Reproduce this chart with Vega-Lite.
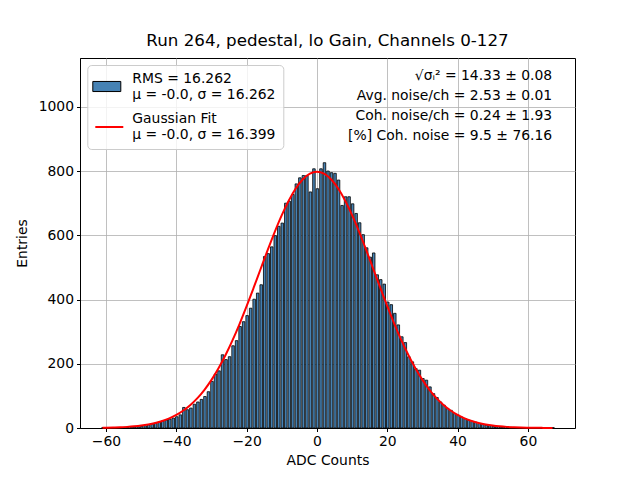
{
  "$schema": "https://vega.github.io/schema/vega-lite/v6.json",
  "width": 495,
  "height": 370,
  "autosize": {"type": "none"},
  "padding": {"left": 80, "top": 58, "right": 65, "bottom": 52},
  "background": "white",
  "config": {
    "font": "DejaVu Sans",
    "view": {"stroke": "black", "strokeWidth": 1},
    "axis": {
      "zindex": 1,
      "grid": true,
      "gridColor": "#b0b0b0",
      "gridWidth": 0.8,
      "domainColor": "black",
      "tickColor": "black",
      "tickSize": 3.5,
      "labelFontSize": 13.9,
      "labelColor": "black",
      "labelPadding": 3,
      "titleFontSize": 13.9,
      "titleFontWeight": "normal",
      "titleColor": "black"
    },
    "legend": {
      "labelFontSize": 13.9,
      "labelColor": "black",
      "labelLimit": 0
    }
  },
  "title": {
    "text": "Run 264, pedestal, lo Gain, Channels 0-127",
    "fontSize": 16.7,
    "fontWeight": "normal",
    "color": "black",
    "offset": 8,
    "anchor": "middle"
  },
  "datasets": {
    "hist": [
      {"lo": -61.5, "hi": -60.5, "n": 1}, {"lo": -60.5, "hi": -59.5, "n": 1},
      {"lo": -58.5, "hi": -57.5, "n": 1}, {"lo": -57.5, "hi": -56.5, "n": 1},
      {"lo": -56.5, "hi": -55.5, "n": 1}, {"lo": -55.5, "hi": -54.5, "n": 2},
      {"lo": -54.5, "hi": -53.5, "n": 2}, {"lo": -53.5, "hi": -52.5, "n": 3},
      {"lo": -52.5, "hi": -51.5, "n": 3}, {"lo": -51.5, "hi": -50.5, "n": 4},
      {"lo": -50.5, "hi": -49.5, "n": 5}, {"lo": -49.5, "hi": -48.5, "n": 7},
      {"lo": -48.5, "hi": -47.5, "n": 10}, {"lo": -47.5, "hi": -46.5, "n": 12},
      {"lo": -46.5, "hi": -45.5, "n": 15}, {"lo": -45.5, "hi": -44.5, "n": 19},
      {"lo": -44.5, "hi": -43.5, "n": 22}, {"lo": -43.5, "hi": -42.5, "n": 25},
      {"lo": -42.5, "hi": -41.5, "n": 28}, {"lo": -41.5, "hi": -40.5, "n": 31},
      {"lo": -40.5, "hi": -39.5, "n": 35}, {"lo": -39.5, "hi": -38.5, "n": 41},
      {"lo": -38.5, "hi": -37.5, "n": 64}, {"lo": -37.5, "hi": -36.5, "n": 57},
      {"lo": -36.5, "hi": -35.5, "n": 62}, {"lo": -35.5, "hi": -34.5, "n": 74},
      {"lo": -34.5, "hi": -33.5, "n": 81}, {"lo": -33.5, "hi": -32.5, "n": 89},
      {"lo": -32.5, "hi": -31.5, "n": 98}, {"lo": -31.5, "hi": -30.5, "n": 113},
      {"lo": -30.5, "hi": -29.5, "n": 145}, {"lo": -29.5, "hi": -28.5, "n": 168},
      {"lo": -28.5, "hi": -27.5, "n": 178}, {"lo": -27.5, "hi": -26.5, "n": 228},
      {"lo": -26.5, "hi": -25.5, "n": 213}, {"lo": -25.5, "hi": -24.5, "n": 222},
      {"lo": -24.5, "hi": -23.5, "n": 256}, {"lo": -23.5, "hi": -22.5, "n": 272},
      {"lo": -22.5, "hi": -21.5, "n": 316}, {"lo": -21.5, "hi": -20.5, "n": 331},
      {"lo": -20.5, "hi": -19.5, "n": 350}, {"lo": -19.5, "hi": -18.5, "n": 373},
      {"lo": -18.5, "hi": -17.5, "n": 401}, {"lo": -17.5, "hi": -16.5, "n": 420},
      {"lo": -16.5, "hi": -15.5, "n": 446}, {"lo": -15.5, "hi": -14.5, "n": 534},
      {"lo": -14.5, "hi": -13.5, "n": 543}, {"lo": -13.5, "hi": -12.5, "n": 564},
      {"lo": -12.5, "hi": -11.5, "n": 599}, {"lo": -11.5, "hi": -10.5, "n": 628},
      {"lo": -10.5, "hi": -9.5, "n": 638}, {"lo": -9.5, "hi": -8.5, "n": 700},
      {"lo": -8.5, "hi": -7.5, "n": 706}, {"lo": -7.5, "hi": -6.5, "n": 727},
      {"lo": -6.5, "hi": -5.5, "n": 760}, {"lo": -5.5, "hi": -4.5, "n": 779},
      {"lo": -4.5, "hi": -3.5, "n": 786}, {"lo": -3.5, "hi": -2.5, "n": 786},
      {"lo": -2.5, "hi": -1.5, "n": 735}, {"lo": -1.5, "hi": -0.5, "n": 807},
      {"lo": -0.5, "hi": 0.5, "n": 745}, {"lo": 0.5, "hi": 1.5, "n": 807},
      {"lo": 1.5, "hi": 2.5, "n": 826}, {"lo": 2.5, "hi": 3.5, "n": 800},
      {"lo": 3.5, "hi": 4.5, "n": 795}, {"lo": 4.5, "hi": 5.5, "n": 793},
      {"lo": 5.5, "hi": 6.5, "n": 772}, {"lo": 6.5, "hi": 7.5, "n": 693},
      {"lo": 7.5, "hi": 8.5, "n": 720}, {"lo": 8.5, "hi": 9.5, "n": 720},
      {"lo": 9.5, "hi": 10.5, "n": 698}, {"lo": 10.5, "hi": 11.5, "n": 668},
      {"lo": 11.5, "hi": 12.5, "n": 639}, {"lo": 12.5, "hi": 13.5, "n": 602},
      {"lo": 13.5, "hi": 14.5, "n": 561}, {"lo": 14.5, "hi": 15.5, "n": 532},
      {"lo": 15.5, "hi": 16.5, "n": 545}, {"lo": 16.5, "hi": 17.5, "n": 477},
      {"lo": 17.5, "hi": 18.5, "n": 462}, {"lo": 18.5, "hi": 19.5, "n": 448},
      {"lo": 19.5, "hi": 20.5, "n": 392}, {"lo": 20.5, "hi": 21.5, "n": 384},
      {"lo": 21.5, "hi": 22.5, "n": 357}, {"lo": 22.5, "hi": 23.5, "n": 321},
      {"lo": 23.5, "hi": 24.5, "n": 284}, {"lo": 24.5, "hi": 25.5, "n": 266},
      {"lo": 25.5, "hi": 26.5, "n": 222}, {"lo": 26.5, "hi": 27.5, "n": 206},
      {"lo": 27.5, "hi": 28.5, "n": 185}, {"lo": 28.5, "hi": 29.5, "n": 180},
      {"lo": 29.5, "hi": 30.5, "n": 154}, {"lo": 30.5, "hi": 31.5, "n": 149},
      {"lo": 31.5, "hi": 32.5, "n": 128}, {"lo": 32.5, "hi": 33.5, "n": 107},
      {"lo": 33.5, "hi": 34.5, "n": 95}, {"lo": 34.5, "hi": 35.5, "n": 81},
      {"lo": 35.5, "hi": 36.5, "n": 71}, {"lo": 36.5, "hi": 37.5, "n": 61},
      {"lo": 37.5, "hi": 38.5, "n": 55}, {"lo": 38.5, "hi": 39.5, "n": 45},
      {"lo": 39.5, "hi": 40.5, "n": 40}, {"lo": 40.5, "hi": 41.5, "n": 34},
      {"lo": 41.5, "hi": 42.5, "n": 29}, {"lo": 42.5, "hi": 43.5, "n": 24},
      {"lo": 43.5, "hi": 44.5, "n": 21}, {"lo": 44.5, "hi": 45.5, "n": 18},
      {"lo": 45.5, "hi": 46.5, "n": 14}, {"lo": 46.5, "hi": 47.5, "n": 11},
      {"lo": 47.5, "hi": 48.5, "n": 9}, {"lo": 48.5, "hi": 49.5, "n": 7},
      {"lo": 49.5, "hi": 50.5, "n": 5}, {"lo": 50.5, "hi": 51.5, "n": 4},
      {"lo": 51.5, "hi": 52.5, "n": 3}, {"lo": 52.5, "hi": 53.5, "n": 3},
      {"lo": 53.5, "hi": 54.5, "n": 2}, {"lo": 54.5, "hi": 55.5, "n": 2},
      {"lo": 55.5, "hi": 56.5, "n": 1}, {"lo": 56.5, "hi": 57.5, "n": 1},
      {"lo": 57.5, "hi": 58.5, "n": 1}, {"lo": 59.5, "hi": 60.5, "n": 1},
      {"lo": 62.5, "hi": 63.5, "n": 1}, {"lo": 66.5, "hi": 67.5, "n": 1}
    ],
    "fit": [
      {"x": -61, "g": 0.8}, {"x": -60, "g": 1.0}, {"x": -58, "g": 1.5}, {"x": -56, "g": 2.3},
      {"x": -54, "g": 3.5}, {"x": -52, "g": 5.2}, {"x": -50, "g": 7.6}, {"x": -48, "g": 11.0},
      {"x": -46, "g": 15.6}, {"x": -44, "g": 21.8}, {"x": -42, "g": 30.0}, {"x": -40, "g": 40.8},
      {"x": -38, "g": 54.5}, {"x": -36, "g": 71.7}, {"x": -34, "g": 93.0}, {"x": -32, "g": 118.9},
      {"x": -30, "g": 149.7}, {"x": -28, "g": 185.8}, {"x": -26, "g": 227.1}, {"x": -24, "g": 273.4},
      {"x": -22, "g": 324.5}, {"x": -20, "g": 379.3}, {"x": -18, "g": 436.9}, {"x": -16, "g": 495.8},
      {"x": -14, "g": 554.3}, {"x": -12, "g": 610.6}, {"x": -10, "g": 662.6}, {"x": -8, "g": 708.5},
      {"x": -6, "g": 746.3}, {"x": -4, "g": 774.6}, {"x": -2, "g": 792.1}, {"x": 0, "g": 798.0},
      {"x": 2, "g": 792.1}, {"x": 4, "g": 774.6}, {"x": 6, "g": 746.3}, {"x": 8, "g": 708.5},
      {"x": 10, "g": 662.6}, {"x": 12, "g": 610.6}, {"x": 14, "g": 554.3}, {"x": 16, "g": 495.8},
      {"x": 18, "g": 436.9}, {"x": 20, "g": 379.3}, {"x": 22, "g": 324.5}, {"x": 24, "g": 273.4},
      {"x": 26, "g": 227.1}, {"x": 28, "g": 185.8}, {"x": 30, "g": 149.7}, {"x": 32, "g": 118.9},
      {"x": 34, "g": 93.0}, {"x": 36, "g": 71.7}, {"x": 38, "g": 54.5}, {"x": 40, "g": 40.8},
      {"x": 42, "g": 30.0}, {"x": 44, "g": 21.8}, {"x": 46, "g": 15.6}, {"x": 48, "g": 11.0},
      {"x": 50, "g": 7.6}, {"x": 52, "g": 5.2}, {"x": 54, "g": 3.5}, {"x": 56, "g": 2.3},
      {"x": 58, "g": 1.5}, {"x": 60, "g": 1.0}, {"x": 62, "g": 0.6}, {"x": 64, "g": 0.4},
      {"x": 66, "g": 0.2}, {"x": 67, "g": 0.2}
    ],
    "notes": [
      {"lines": ["√σᵢ² = 14.33 ± 0.08", "Avg. noise/ch = 2.53 ± 0.01", "Coh. noise/ch = 0.24 ± 1.93", "[%] Coh. noise = 9.5 ± 76.16"]}
    ]
  },
  "layer": [
    {
      "data": {"name": "hist"},
      "mark": {"type": "bar", "stroke": "black", "strokeWidth": 0.8, "opacity": 1},
      "encoding": {
        "x": {
          "field": "lo",
          "type": "quantitative",
          "bin": "binned",
          "scale": {"domain": [-67.4, 73.4], "nice": false, "zero": false},
          "axis": {"values": [-60, -40, -20, 0, 20, 40, 60], "grid": true, "title": "ADC Counts", "titlePadding": 5}
        },
        "x2": {"field": "hi"},
        "y": {
          "field": "n",
          "type": "quantitative",
          "scale": {"domain": [0, 1152], "nice": false},
          "axis": {"values": [0, 200, 400, 600, 800, 1000], "format": "d", "title": "Entries", "titlePadding": 9}
        },
        "fill": {
          "datum": "h",
          "type": "nominal",
          "scale": {"domain": ["h"], "range": ["#4682b4"]},
          "legend": {
            "title": null,
            "orient": "none",
            "legendX": 12.3,
            "legendY": 14,
            "padding": 0,
            "zindex": 2,
            "symbolType": "M-1,-0.36H1V0.36H-1Z",
            "symbolSize": 784,
            "symbolStrokeColor": "black",
            "symbolStrokeWidth": 1,
            "symbolOpacity": 1,
            "labelExpr": "''"
          }
        }
      }
    },
    {
      "data": {"name": "fit"},
      "mark": {"type": "line", "strokeWidth": 2, "interpolate": "monotone"},
      "encoding": {
        "x": {"field": "x", "type": "quantitative"},
        "y": {"field": "g", "type": "quantitative"},
        "stroke": {
          "datum": "f",
          "type": "nominal",
          "scale": {"domain": ["h", "f"], "range": ["rgba(0,0,0,0)", "red"]},
          "legend": {
            "title": null,
            "orient": "none",
            "legendX": 7.3,
            "legendY": 7,
            "padding": 7,
            "rowPadding": 10,
            "labelOffset": 8,
            "labelBaseline": "line-bottom",
            "zindex": 1,
            "symbolType": "stroke",
            "symbolSize": 784,
            "symbolStrokeWidth": 2,
            "fillColor": "rgba(255,255,255,0.8)",
            "strokeColor": "#cccccc",
            "cornerRadius": 4,
            "labelExpr": "datum.value == 'h' ? ['RMS = 16.262', 'μ = -0.0, σ = 16.262'] : ['Gaussian Fit', 'μ = -0.0, σ = 16.399']",
            "encode": {"labels": {"lineHeight": {"value": 16.7}}}
          }
        }
      }
    },
    {
      "data": {"name": "notes"},
      "mark": {"type": "text", "align": "right", "baseline": "top", "fontSize": 13.9, "lineHeight": 20, "color": "black"},
      "encoding": {
        "text": {"field": "lines"},
        "x": {"datum": 66.9, "type": "quantitative"},
        "y": {"datum": 1118, "type": "quantitative"}
      }
    }
  ]
}
